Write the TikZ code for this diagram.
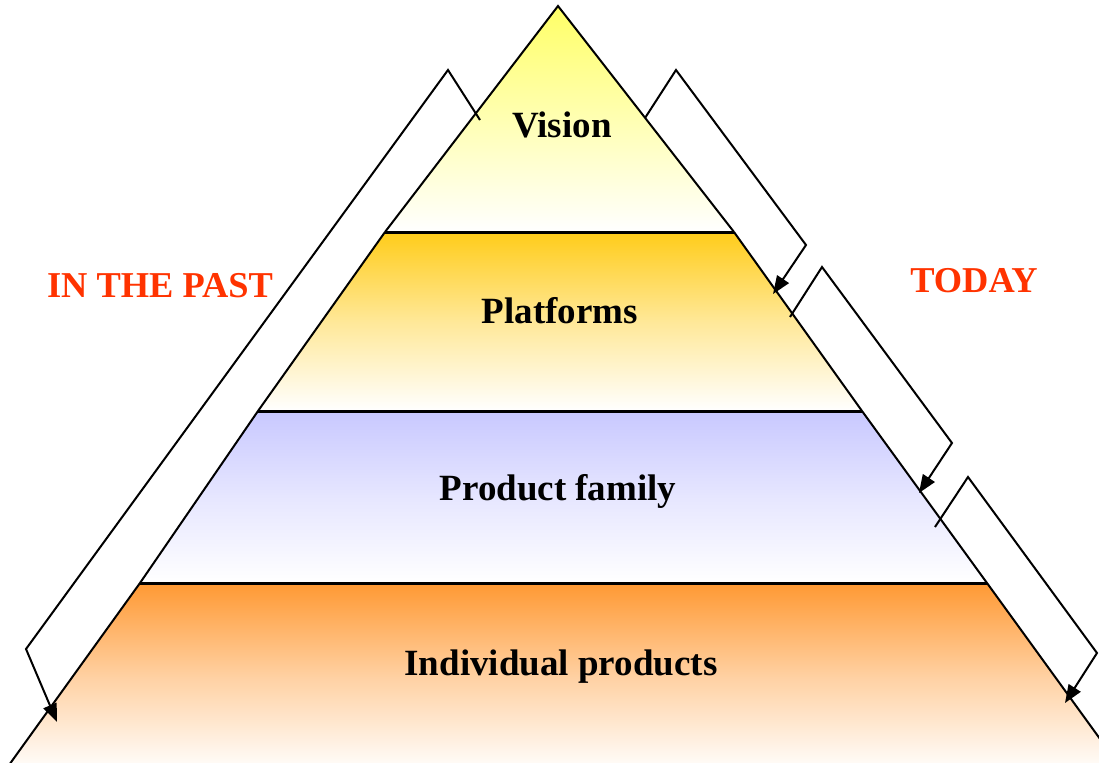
\documentclass[tikz,border=0pt]{standalone}
\usepackage{fontspec}
\setmainfont{Liberation Serif}
\usetikzlibrary{arrows.meta}
\definecolor{pastred}{HTML}{FF3300}
\definecolor{visiony}{HTML}{FFFF66}
\definecolor{platgold}{HTML}{FFCC1A}
\definecolor{famblue}{HTML}{C8C8FF}
\definecolor{indorange}{HTML}{FF9933}
\tikzset{
  band/.style={draw=black, line width=1pt, line join=miter},
  sepline/.style={line width=1.5pt},
  label/.style={font=\bfseries\fontsize{18.5}{22}\selectfont, inner sep=0pt},
  side/.style={font=\bfseries\fontsize{18.2}{22}\selectfont, text=pastred, inner sep=0pt},
  bracket/.style={line width=1pt, line join=miter, -{Triangle[length=9pt,width=7pt]}},
}
\begin{document}
\begin{tikzpicture}[x=0.5pt,y=-0.5pt]
\useasboundingbox (0,0) rectangle (1099,762);
\clip (0,0) rectangle (1099,762);
% pyramid corners
\coordinate (apex) at (558,6);
\coordinate (l1) at (385,232);
\coordinate (r1) at (734,232);
\coordinate (l2) at (258,411);
\coordinate (r2) at (862,411);
\coordinate (l3) at (140,583);
\coordinate (r3) at (987,583);
\coordinate (l4) at (4,772);
\coordinate (r4) at (1124,772);
% bands
\shade[top color=visiony, bottom color=white] (apex) -- (l1) -- (r1) -- cycle;
\shade[top color=platgold, bottom color=white, middle color=platgold!45!white] (l1) -- (r1) -- (r2) -- (l2) -- cycle;
\shade[top color=famblue, bottom color=white, middle color=famblue!45!white] (l2) -- (r2) -- (r3) -- (l3) -- cycle;
\shade[top color=indorange, bottom color=white, middle color=indorange!45!white] (l3) -- (r3) -- (r4) -- (l4) -- cycle;
\draw[band] (l1) -- (apex) -- (r1);
\draw[band] (l1) -- (l2) -- (l3) -- (l4);
\draw[band] (r1) -- (r2) -- (r3) -- (r4);
\draw[sepline] (l1) -- (r1);
\draw[sepline] (l2) -- (r2);
\draw[sepline] (l3) -- (r3);
% labels
\node[label] (vision) at (562,125) {Vision};
\node[label] (platforms) at (560,311) {Platforms};
\node[label] (family) at (558,491) {Product family};
\node[label] (indiv) at (561,667) {Individual products};
\node[side] (past) at (160,286) {IN THE PAST};
\node[side] (today) at (974,281) {TODAY};
% left bracket arrow
\coordinate (pa) at (480,120);
\coordinate (pb) at (448,70);
\coordinate (pc) at (26,649);
\coordinate (pd) at (57,722);
\draw[bracket] (pa) -- (pb) -- (pc) -- (pd);
% right bracket arrows
\coordinate (ta) at (645,118);
\coordinate (tb) at (676,70);
\coordinate (tc) at (806,245);
\coordinate (td) at (773,294);
\draw[bracket] (ta) -- (tb) -- (tc) -- (td);
\coordinate (ua) at (790,317);
\coordinate (ub) at (822,267);
\coordinate (uc) at (952,443);
\coordinate (ud) at (919,493);
\draw[bracket] (ua) -- (ub) -- (uc) -- (ud);
\coordinate (wa) at (935,527);
\coordinate (wb) at (968,477);
\coordinate (wc) at (1097,653);
\coordinate (wd) at (1065,703);
\draw[bracket] (wa) -- (wb) -- (wc) -- (wd);
\end{tikzpicture}
\end{document}
